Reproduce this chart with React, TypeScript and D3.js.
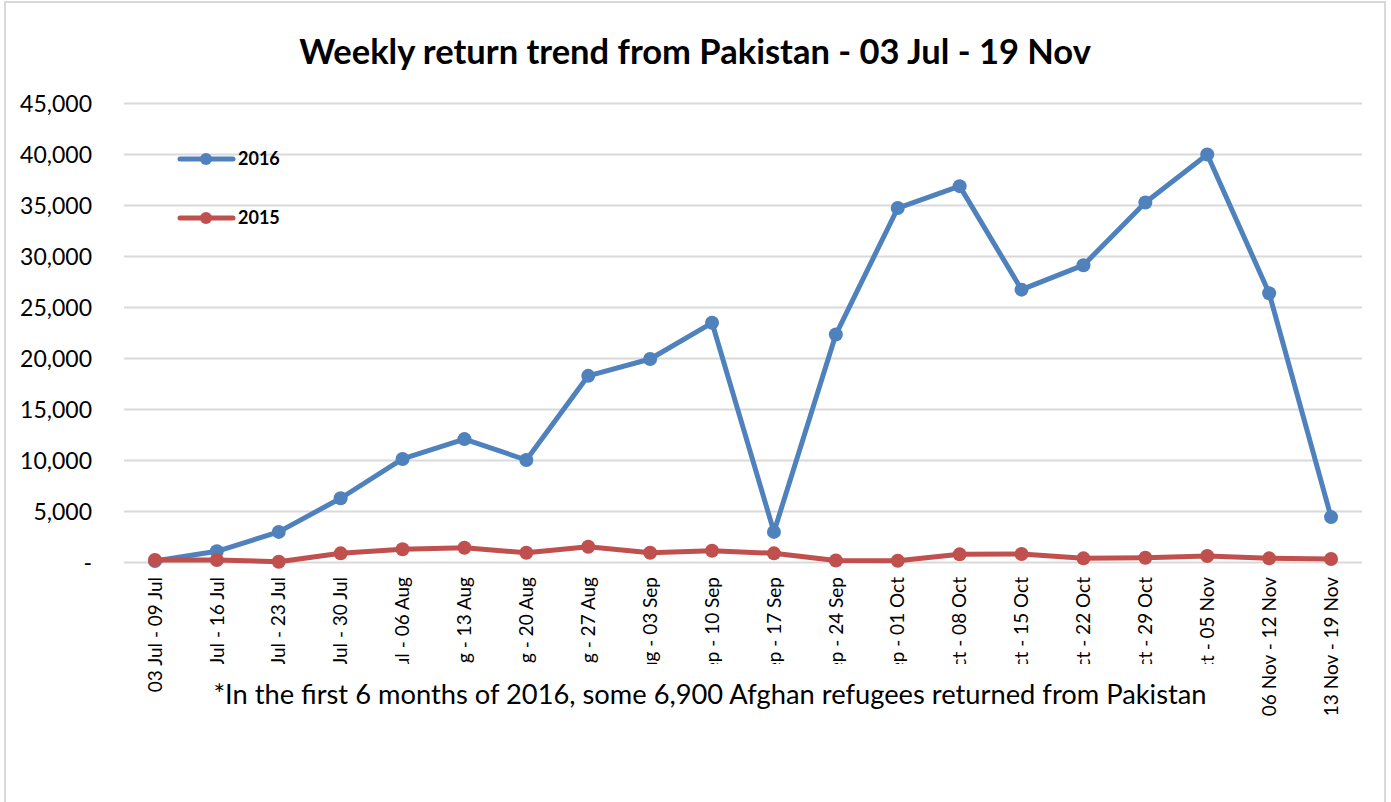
import React, { useEffect, useRef } from "react";
import * as d3 from "d3";

const weeks = [
  "03 Jul - 09 Jul",
  "10 Jul - 16 Jul",
  "17 Jul - 23 Jul",
  "24 Jul - 30 Jul",
  "31 Jul - 06 Aug",
  "07 Aug - 13 Aug",
  "14 Aug - 20 Aug",
  "21 Aug - 27 Aug",
  "28 Aug - 03 Sep",
  "04 Sep - 10 Sep",
  "11 Sep - 17 Sep",
  "18 Sep - 24 Sep",
  "25 Sep - 01 Oct",
  "02 Oct - 08 Oct",
  "09 Oct - 15 Oct",
  "16 Oct - 22 Oct",
  "23 Oct - 29 Oct",
  "30 Oct - 05 Nov",
  "06 Nov - 12 Nov",
  "13 Nov - 19 Nov",
];

const returns2016 = [
  100, 1050, 2950, 6250, 10100, 12050, 10000, 18250, 19900, 23450, 2950, 22300,
  34700, 36850, 26700, 29100, 35250, 39950, 26350, 4400,
];

const returns2015 = [
  200, 200, 30, 850, 1250, 1400, 900, 1500, 900, 1100, 850, 150, 120, 750, 780,
  360, 420, 590, 360, 290,
];

const yTicks = [0, 5000, 10000, 15000, 20000, 25000, 30000, 35000, 40000, 45000];

const seriesNames = ["2016", "2015"];

const W = 1391;
const H = 802;
const FONT = "Lato, 'Open Sans', sans-serif";

export default function App() {
  const ref = useRef<SVGSVGElement>(null);

  useEffect(() => {
    let svg = d3.select(ref.current);
    svg.selectAll("*").remove();

    let colors = ["#4F81BD", "#C0504D"];
    let series = [returns2016, returns2015];

    // outer chart frame
    svg
      .append("rect")
      .attr("x", 5)
      .attr("y", 2)
      .attr("width", 1380)
      .attr("height", H + 20)
      .attr("fill", "white")
      .attr("stroke", "#d9d9d9")
      .attr("stroke-width", 2);

    let xScale = d3.scaleBand().domain(weeks).range([124, 1362]).padding(0);
    let xPos = (d: string) => (xScale(d) as number) + xScale.bandwidth() / 2;
    let yScale = d3.scaleLinear().domain([0, 45000]).range([562, 103]);

    // gridlines + y labels
    let yAxis = d3
      .axisLeft(yScale)
      .tickValues(yTicks)
      .tickSize(-(1362 - 124))
      .tickPadding(32)
      .tickFormat((v) => (+v === 0 ? "-" : d3.format(",")(+v)));
    let gy = svg.append("g").attr("transform", "translate(124,0)").call(yAxis);
    gy.select(".domain").remove();
    gy.selectAll(".tick line").attr("stroke", "#d9d9d9").attr("stroke-width", 2);
    gy.selectAll(".tick text")
      .attr("fill", "#000")
      .style("font-family", FONT)
      .style("font-size", "23px")
      .attr("dy", "0.35em");

    // x labels, rotated
    let xAxis = d3.axisBottom(xScale).tickSize(0).tickPadding(0);
    let gx = svg.append("g").attr("transform", "translate(0,562)").call(xAxis);
    gx.select(".domain").remove();
    gx.selectAll(".tick text")
      .attr("fill", "#000")
      .style("font-family", FONT)
      .style("font-size", "19px")
      .attr("text-anchor", "end")
      .attr("dy", "0.35em")
      .attr("y", 0)
      .attr("transform", "translate(0,15) rotate(-90)");

    // lines, 2015 drawn on top
    let line = d3
      .line<number>()
      .x((d, i) => xPos(weeks[i]))
      .y((d) => yScale(d));

    [0, 1].forEach((s) => {
      let g = svg.append("g");
      g.append("path")
        .datum(series[s])
        .attr("d", line)
        .attr("fill", "none")
        .attr("stroke", colors[s])
        .attr("stroke-width", 5)
        .attr("stroke-linejoin", "round");
      g.selectAll("circle")
        .data(series[s])
        .enter()
        .append("circle")
        .attr("cx", (d, i) => xPos(weeks[i]))
        .attr("cy", (d) => yScale(d))
        .attr("r", 7)
        .attr("fill", colors[s]);
    });

    // legend
    let legend = svg.append("g");
    seriesNames.forEach((name, i) => {
      let ly = 159 + i * 59;
      legend
        .append("line")
        .attr("x1", 180)
        .attr("x2", 233)
        .attr("y1", ly)
        .attr("y2", ly)
        .attr("stroke", colors[i])
        .attr("stroke-width", 5)
        .attr("stroke-linecap", "round");
      legend
        .append("circle")
        .attr("cx", 206)
        .attr("cy", ly)
        .attr("r", 6)
        .attr("fill", colors[i]);
      legend
        .append("text")
        .text(name)
        .attr("x", 238)
        .attr("y", ly)
        .attr("dy", "0.35em")
        .style("font-family", FONT)
        .style("font-weight", "bold")
        .style("font-size", "18px");
    });

    // title
    svg
      .append("text")
      .text("Weekly return trend from Pakistan - 03 Jul - 19 Nov")
      .attr("x", 695)
      .attr("y", 52)
      .attr("dy", "0.35em")
      .attr("text-anchor", "middle")
      .style("font-family", FONT)
      .style("font-weight", "bold")
      .style("font-size", "34.5px");

    // footnote box sits over the axis labels
    svg
      .append("rect")
      .attr("x", 186)
      .attr("y", 664)
      .attr("width", 1052)
      .attr("height", 60)
      .attr("fill", "white");
    svg
      .append("text")
      .text(
        "*In the first 6 months of 2016, some 6,900 Afghan refugees returned from Pakistan"
      )
      .attr("x", 710)
      .attr("y", 694)
      .attr("dy", "0.35em")
      .attr("text-anchor", "middle")
      .style("font-family", FONT)
      .style("font-size", "27.3px");
  }, []);

  return (
    <svg
      ref={ref}
      width={W}
      height={H}
      style={{ position: "absolute", left: 0, top: 0, background: "white" }}
    />
  );
}
